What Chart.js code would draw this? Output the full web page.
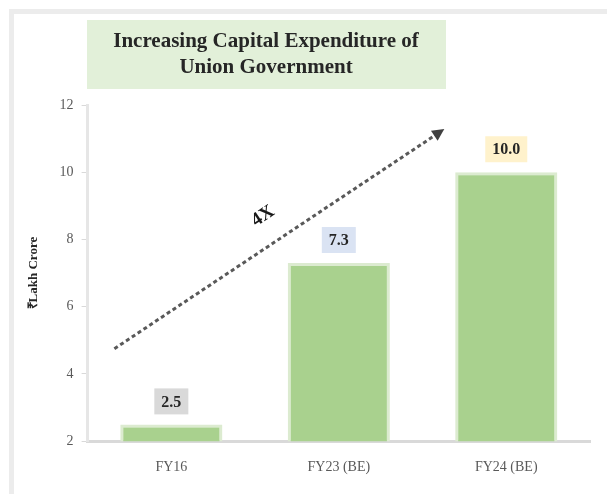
<!DOCTYPE html>
<html>
<head>
<meta charset="utf-8">
<script src="https://cdn.jsdelivr.net/npm/chart.js@4"></script>
<style>
  html, body { margin: 0; padding: 0; background: #fff; }
  #frame { position: absolute; left: 9px; top: 9px; width: 640px; height: 540px;
           border-left: 5px solid #ececec; border-top: 5px solid #ececec; }
  #wrap { position: absolute; left: 0; top: 0; width: 607px; height: 494px; }
</style>
</head>
<body>
<div id="frame"></div>
<div id="wrap"><canvas id="chart"></canvas></div>
<script>
const categories = ["FY16", "FY23 (BE)", "FY24 (BE)"];
const capex = [2.5, 7.3, 10.0];
const valueLabels = ["2.5", "7.3", "10.0"];
const labelColors = ["#d9d9d9", "#dae3f3", "#fff2cc"];
const yTicks = [2, 4, 6, 8, 10, 12];
const titleLines = ["Increasing Capital Expenditure of", "Union Government"];
const growthText = "4X";
// arrow ends, in category index / value units
const arrowFrom = [-0.34, 4.75];
const arrowTo = [1.62, 11.25];

const serif = "'Liberation Serif', 'Times New Roman', serif";

const decorations = {
  id: "decorations",
  afterDraw(chart) {
    const ctx = chart.ctx;
    const x = chart.scales.x, y = chart.scales.y;

    // title box
    ctx.save();
    ctx.fillStyle = "#e2f0d9";
    ctx.fillRect(87, 20, 359, 69);
    ctx.fillStyle = "#262626";
    ctx.font = "bold 21px " + serif;
    ctx.textAlign = "center";
    ctx.textBaseline = "middle";
    ctx.fillText(titleLines[0], 266, 42);
    ctx.fillText(titleLines[1], 266, 68);
    ctx.restore();

    // value labels with coloured boxes
    const meta = chart.getDatasetMeta(0);
    meta.data.forEach((bar, i) => {
      ctx.save();
      ctx.font = "bold 16px " + serif;
      const w = ctx.measureText(valueLabels[i]).width + 14;
      const h = 26;
      const bx = bar.x - w / 2, by = bar.y - 10 - h;
      ctx.fillStyle = labelColors[i];
      ctx.fillRect(bx, by, w, h);
      ctx.fillStyle = "#262626";
      ctx.textAlign = "center";
      ctx.textBaseline = "middle";
      ctx.fillText(valueLabels[i], bar.x, by + h / 2 + 1);
      ctx.restore();
    });

    // growth arrow
    const x0 = x.getPixelForValue(arrowFrom[0]), y0 = y.getPixelForValue(arrowFrom[1]);
    const x1 = x.getPixelForValue(arrowTo[0]), y1 = y.getPixelForValue(arrowTo[1]);
    const ang = Math.atan2(y1 - y0, x1 - x0);
    ctx.save();
    ctx.strokeStyle = "#595959";
    ctx.lineWidth = 3;
    ctx.setLineDash([4, 3]);
    ctx.beginPath();
    ctx.moveTo(x0, y0);
    ctx.lineTo(x1 - 8 * Math.cos(ang), y1 - 8 * Math.sin(ang));
    ctx.stroke();
    ctx.setLineDash([]);
    ctx.fillStyle = "#404040";
    ctx.translate(x1, y1);
    ctx.rotate(ang);
    ctx.beginPath();
    ctx.moveTo(2, 0);
    ctx.lineTo(-10, -6);
    ctx.lineTo(-10, 6);
    ctx.closePath();
    ctx.fill();
    ctx.restore();

    // 4X label along the arrow
    const mx = (x0 + x1) / 2, my = (y0 + y1) / 2;
    ctx.save();
    ctx.translate(mx + 28 * Math.sin(ang), my - 28 * Math.cos(ang));
    ctx.rotate(ang);
    ctx.font = "bold 19px " + serif;
    ctx.fillStyle = "#1a1a1a";
    ctx.textAlign = "center";
    ctx.textBaseline = "middle";
    ctx.fillText(growthText, 0, 0);
    ctx.restore();
  }
};

new Chart(document.getElementById("chart"), {
  type: "bar",
  data: {
    labels: categories,
    datasets: [{
      data: capex,
      backgroundColor: "#a9d18e",
      borderColor: "#dcebd0",
      borderWidth: 3,
      borderSkipped: "bottom",
      categoryPercentage: 0.61,
      barPercentage: 1
    }]
  },
  options: {
    responsive: true,
    maintainAspectRatio: false,
    animation: false,
    layout: { padding: { top: 105, right: 17, bottom: 8, left: 22 } },
    plugins: {
      legend: { display: false },
      tooltip: { enabled: false }
    },
    scales: {
      x: {
        grid: { display: false },
        border: { color: "#d9d9d9", width: 3 },
        ticks: { color: "#595959", font: { family: serif, size: 14 }, padding: 10 }
      },
      y: {
        min: 2,
        max: 12,
        afterBuildTicks(axis) { axis.ticks = yTicks.map(v => ({ value: v })); },
        grid: { drawOnChartArea: false, drawTicks: true, tickLength: 6, color: "#d9d9d9" },
        border: { color: "#e6e6e6", width: 3 },
        ticks: { color: "#595959", font: { family: serif, size: 14 }, padding: 8 },
        title: {
          display: true,
          text: "₹Lakh Crore",
          color: "#262626",
          font: { family: serif, size: 13, weight: "bold" },
          padding: { bottom: 10 }
        }
      }
    }
  },
  plugins: [decorations]
});
</script>
</body>
</html>
